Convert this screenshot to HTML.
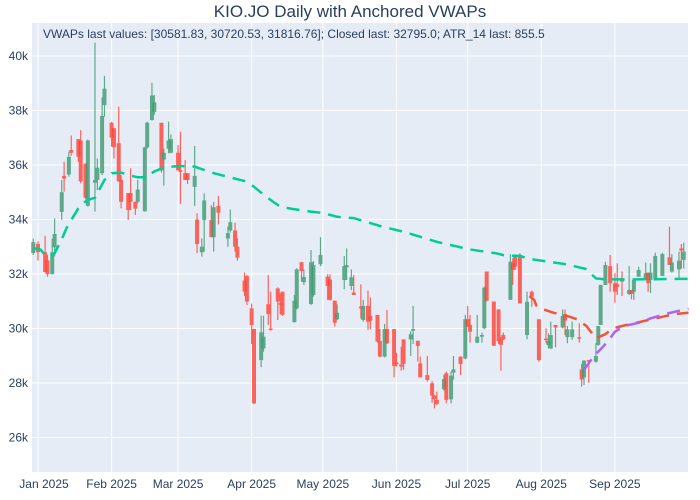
<!DOCTYPE html>
<html><head><meta charset="utf-8">
<style>
html,body{margin:0;padding:0;background:#fff;}
svg{display:block;font-family:"Liberation Sans",Arial,sans-serif;}
</style></head>
<body>
<svg id="chart" width="700" height="500" viewBox="0 0 700 500">
  <rect x="0" y="0" width="700" height="500" fill="#ffffff"/>
  <rect x="32" y="23" width="656" height="449" fill="#E5ECF6"/>
  <g id="grid"></g>
  <g id="ylabels"></g>
  <g id="xlabels"></g>
  <g id="candles"></g>
  <g id="lines"></g>
  <text x="350" y="17" text-anchor="middle" font-size="17" fill="#2a3f5f">KIO.JO Daily with Anchored VWAPs</text>
  <text x="43" y="38" font-size="12" fill="#2a3f5f">VWAPs last values: [30581.83, 30720.53, 31816.76]; Closed last: 32795.0; ATR_14 last: 855.5</text>
</svg>
<script>
// day offsets from 2025-01-01, prices in thousands
const candleDays=[-2,0,3,4,6,7,10,11,13,14,17,18,20,21,24,25,27,28,31,32,34,35,38,39,41,42,45,46,48,49,52,53,55,56,59,60,62,63,66,67,69,70,73,74,76,80,81,83,84,87,88,90,91,94,95,97,98,101,102,103,108,109,111,112,115,116,119,122,123,125,126,129,130,132,133,136,137,139,140,143,144,146,147,150,151,153,154,157,158,160,161,164,166,167,168,171,172,174,175,178,180,181,182,185,187,188,189,192,194,195,196,199,200,201,203,206,208,211,214,215,216,218,221,222,223,225,228,229,230,232,235,236,237,239,241,243,244,246,249,250,251,253,256,257,258,260,263,266,267,270,271,272];
const openVals=[32.77,33.1,32.8,32.5,32.0,32.98,34.28,35.6,35.65,36.55,36.95,36.9,36.05,34.5,35.35,35.45,35.7,38.2,37.55,37.35,36.8,35.45,34.97,34.97,34.65,34.65,34.3,36.65,37.65,37.95,37.55,36.2,36.6,36.45,36.45,35.8,35.7,35.7,35.2,34.0,32.8,33.98,33.98,33.35,34.5,33.3,33.6,33.6,33.0,31.76,31.93,30.74,29.98,28.84,29.27,30.89,30.0,31.47,30.93,31.35,30.23,30.74,32.43,31.7,30.9,31.23,32.36,31.9,31.8,31.02,30.34,31.78,32.24,31.56,31.32,30.8,30.31,30.83,30.47,30.5,29.54,28.97,29.98,29.98,28.75,28.68,29.6,29.6,29.92,29.55,28.72,28.29,27.99,27.54,27.38,27.77,28.36,27.4,28.38,28.97,28.9,30.34,30.13,29.48,29.7,30.01,32.09,30.99,30.7,29.6,29.76,31.05,32.39,32.64,32.64,29.76,31.35,30.34,29.63,29.39,29.27,30.13,30.04,30.53,29.68,29.68,29.68,28.5,28.21,28.84,28.78,29.4,30.13,31.6,32.29,31.66,31.62,31.84,31.27,31.41,31.35,31.9,31.78,32.05,31.78,31.84,31.93,32.61,32.09,32.17,32.94,32.52];
const highVals=[33.3,33.2,33.4,32.7,33.3,34.04,35.45,36.12,36.49,37.08,36.95,37.28,36.05,36.94,40.49,36.24,38.48,39.27,37.59,37.35,38.14,35.63,34.97,35.88,34.65,35.45,36.67,37.59,39.02,38.57,37.55,36.61,37.59,37.12,36.73,37.22,36.18,35.7,36.7,34.23,33.31,34.96,34.53,34.65,34.86,33.74,34.37,33.88,33.31,32.05,31.96,30.92,30.0,30.47,30.47,31.96,31.35,31.51,31.29,31.35,31.23,32.21,32.45,32.17,32.88,32.48,33.35,31.99,31.99,31.02,30.89,32.66,32.94,32.17,31.96,31.62,31.05,31.39,31.14,30.5,29.98,30.17,30.68,29.98,29.11,29.33,29.6,29.9,30.83,29.55,28.97,28.99,28.07,27.56,27.68,28.3,28.42,28.42,28.99,28.97,30.5,30.83,30.5,30.5,29.85,31.54,32.09,30.99,30.7,29.68,29.85,32.73,32.58,32.7,32.76,31.35,31.39,30.34,30.01,29.82,30.25,30.13,30.7,30.7,30.09,30.25,30.19,28.7,28.84,28.84,29.46,30.09,31.6,32.45,32.7,32.03,32.39,32.09,32.29,31.41,31.84,32.27,32.42,32.05,32.39,32.78,32.78,33.74,32.73,32.82,33.1,33.15];
const lowVals=[32.7,32.5,32.06,31.9,31.98,32.64,33.98,35.02,35.57,36.34,36.12,35.33,34.74,34.47,34.29,35.08,35.63,37.77,36.67,36.24,35.39,34.41,33.98,34.35,34.17,34.59,34.29,36.6,37.63,37.84,35.72,35.24,36.43,36.43,35.8,34.57,35.45,35.3,34.5,32.76,32.64,32.82,33.35,32.82,33.82,33.0,33.52,32.82,32.49,31.19,30.86,29.43,27.23,28.58,29.15,30.13,29.92,30.31,30.53,30.46,30.22,30.7,31.72,31.6,30.86,31.17,32.29,31.05,31.02,30.07,30.31,31.44,31.78,31.41,31.23,30.37,30.25,29.95,29.97,29.48,28.94,28.94,29.43,28.21,28.6,28.45,28.48,28.99,29.43,28.78,28.21,28.05,27.28,27.07,27.19,27.72,27.25,27.25,28.13,28.29,28.87,30.07,29.48,29.46,29.48,29.97,30.99,29.36,29.43,28.45,29.58,31.05,31.6,32.15,30.92,29.6,30.8,28.78,29.46,29.27,29.24,29.31,30.0,29.76,29.46,29.58,29.48,27.87,27.93,28.01,28.75,29.36,30.13,31.6,31.35,30.95,31.23,31.19,31.23,31.07,31.05,31.9,31.78,31.35,31.3,31.84,31.93,32.33,32.05,31.8,32.2,32.2];
const closeVals=[33.17,32.8,32.07,32.0,32.8,33.47,35.0,35.5,36.3,36.45,36.3,35.4,34.8,36.9,35.45,35.9,37.8,38.8,37.0,36.65,35.4,34.65,34.35,34.65,34.4,35.1,36.65,37.55,38.55,38.3,35.8,36.45,36.9,36.95,35.8,35.75,35.45,35.45,35.6,33.1,33.0,34.7,33.35,34.45,34.25,33.5,33.9,33.0,32.6,31.35,30.99,30.13,27.25,29.86,29.7,30.53,29.95,30.99,30.88,30.5,31.02,32.17,32.11,31.89,32.43,32.33,32.7,31.56,31.05,30.21,30.58,32.29,32.33,31.88,31.23,30.74,30.83,30.25,30.29,29.52,28.97,29.98,29.46,28.62,28.7,28.6,28.7,29.79,29.98,29.36,28.21,28.11,27.54,27.41,27.23,28.14,27.38,28.27,28.5,28.7,30.34,30.07,29.88,29.7,29.76,31.5,31.02,29.37,29.54,29.4,29.6,32.45,32.15,32.27,30.92,30.98,31.17,28.84,29.6,29.55,29.76,30.04,30.46,30.29,29.97,29.97,29.64,28.13,28.82,28.78,28.99,30.09,31.6,32.33,31.66,31.35,31.53,31.72,31.41,31.27,31.78,32.15,32.03,31.66,32.05,32.66,32.73,32.33,32.42,32.49,32.86,32.82];

const vwapAllDays=[-2,1,3,5,7,10,12,14,17,19,21,24,25,28,31,35,39,42,45,49,53,56,59,63,66,68,74,82,88,91,96,102,107,115,120,126,133,145,154,168,182,193,197,203,206,215,223,231,235,239,250,260,270,274];
const vwapAllVals=[32.94,32.9,32.7,32.65,32.76,33.27,33.68,33.98,34.41,34.6,34.72,34.8,34.96,35.45,35.7,35.72,35.61,35.55,35.55,35.76,35.91,35.94,35.96,35.96,35.94,35.88,35.7,35.52,35.39,35.2,34.84,34.47,34.39,34.29,34.24,34.1,34.05,33.74,33.55,33.18,32.9,32.76,32.67,32.67,32.57,32.45,32.35,32.18,31.84,31.8,31.8,31.81,31.82,31.82];
const vwapJulDays=[207,209,210,213,217,221,224,227,231,235,239,242,246,251,257,263,268,274];
const vwapJulVals=[31.19,31.05,30.83,30.7,30.58,30.5,30.43,30.34,30.09,29.64,29.79,30.0,30.09,30.19,30.31,30.43,30.53,30.58];
const vwapAugDays=[230,234,238,241,243,247,253,258,264,270,274];
const vwapAugVals=[28.48,28.97,29.33,29.64,29.88,30.09,30.21,30.37,30.53,30.65,30.72];

const yTicks=[26,28,30,32,34,36,38,40];
const yTickLabels=["26k","28k","30k","32k","34k","36k","38k","40k"];
const xTickDays=[0,31,59,90,120,151,181,212,243];
const xTickLabels=["Jan 2025","Feb 2025","Mar 2025","Apr 2025","May 2025","Jun 2025","Jul 2025","Aug 2025","Sep 2025"];

const NS="http://www.w3.org/2000/svg";
const PL=32,PR=688,PT=23,PB=472;
const X0=38,PXDAY=2.374;
function xScale(d){return X0+d*PXDAY;}
function yScale(v){return 56+(40-v)*27.25;}
function mk(tag,attrs,parent){const e=document.createElementNS(NS,tag);for(const k in attrs)e.setAttribute(k,attrs[k]);parent.appendChild(e);return e;}

const grid=document.getElementById('grid');
const yl=document.getElementById('ylabels');
const xl=document.getElementById('xlabels');
yTicks.forEach((t,i)=>{
  const y=yScale(t);
  const ln=mk('line',{x1:PL,x2:PR,y1:y,y2:y,stroke:'#fff','stroke-width':1},grid);
  
  
  const tx=mk('text',{x:28,y:y+4,'text-anchor':'end','font-size':12,fill:'#2a3f5f'},yl);
  tx.textContent=yTickLabels[i];
  
  
});
xTickDays.forEach((d,i)=>{
  const x=xScale(d);
  if(x>PL+1){
    const ln=mk('line',{x1:x,x2:x,y1:PT,y2:PB,stroke:'#fff','stroke-width':1},grid);
    
    
  }
  const tx=mk('text',{x:Math.max(x,44),y:488,'text-anchor':'middle','font-size':12,fill:'#2a3f5f'},xl);
  tx.textContent=xTickLabels[i];
  
  
});

const cg=document.getElementById('candles');
candleDays.forEach((d,i)=>{
  const o=openVals[i],h=highVals[i],l=lowVals[i],c=closeVals[i];
  const up=c>=o;
  const col=up?'#3D9970':'#FF4136';
  const g=mk('g',{opacity:0.8},cg);
  
  
  const x=xScale(d);
  mk('line',{x1:x,x2:x,y1:yScale(h),y2:yScale(l),stroke:col,'stroke-width':1.2},g);
  const yt=yScale(Math.max(o,c)),yb=yScale(Math.min(o,c));
  mk('rect',{x:x-2,y:yt,width:4,height:Math.max(1.5,yb-yt),fill:col},g);
});

const lg=document.getElementById('lines');
function drawLine(days,vals,color,name){
  const pts=days.map((d,i)=>xScale(d).toFixed(1)+','+yScale(vals[i]).toFixed(1)).join(' ');
  const p=mk('polyline',{points:pts,fill:'none',stroke:color,'stroke-width':2.5,'stroke-dasharray':'13,8','stroke-linejoin':'round'},lg);
  
  
}
drawLine(vwapAllDays,vwapAllVals,'#00CC96','vwap-line-start-anchor');
drawLine(vwapJulDays,vwapJulVals,'#EF553B','vwap-line-july-anchor');
drawLine(vwapAugDays,vwapAugVals,'#AB63FA','vwap-line-august-anchor');
</script>
</body></html>
